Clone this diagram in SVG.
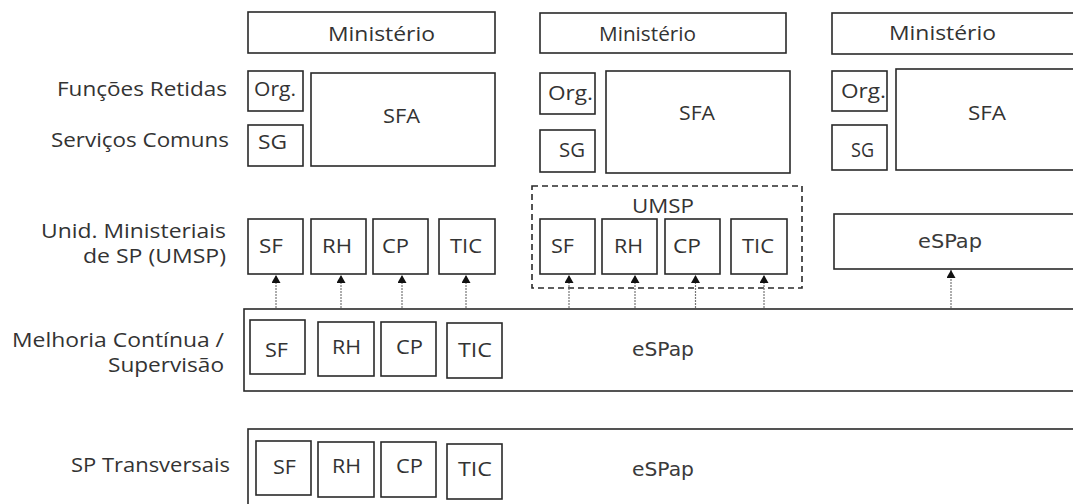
<svg xmlns="http://www.w3.org/2000/svg" width="1073" height="504" viewBox="0 0 1073 504">
<defs>
<style>
.b{fill:#fff;stroke:#2a2a2a;stroke-width:1.6}
.d{fill:none;stroke:#2a2a2a;stroke-width:1.6;stroke-dasharray:6 4}
.t{font-family:"Open Sans","Noto Sans",sans-serif;font-size:20px;fill:#333}
.e{font-family:"DejaVu Sans",Verdana,sans-serif;font-size:19px;fill:#3a3a3a}
.c{stroke:#777;stroke-width:1.2;stroke-dasharray:2 1;fill:none}
</style>
<marker id="ah" markerUnits="userSpaceOnUse" markerWidth="10" markerHeight="10" refX="8" refY="4.5" orient="auto">
<path d="M0,0 L8,4.5 L0,9 z" fill="#111"/>
</marker>
</defs>
<rect width="1073" height="504" fill="#fff"/>

<g id="labels">
<text class="t" x="57" y="96" textLength="170" lengthAdjust="spacingAndGlyphs">Funções Retidas</text>
<text class="t" x="51" y="147" textLength="178" lengthAdjust="spacingAndGlyphs">Serviços Comuns</text>
<text class="t" x="41" y="238" textLength="185" lengthAdjust="spacingAndGlyphs">Unid. Ministeriais</text>
<text class="t" x="83" y="263" textLength="143" lengthAdjust="spacingAndGlyphs">de SP (UMSP)</text>
<text class="t" x="12" y="347" textLength="212" lengthAdjust="spacingAndGlyphs">Melhoria Contínua /</text>
<text class="t" x="108" y="372" textLength="116" lengthAdjust="spacingAndGlyphs">Supervisão</text>
<text class="t" x="71" y="472" textLength="159" lengthAdjust="spacingAndGlyphs">SP Transversais</text>
</g>

<g id="col1">
<g id="min1"><rect class="b" x="248" y="12" width="247" height="41"/><text class="t" x="328" y="41" textLength="107" lengthAdjust="spacingAndGlyphs">Ministério</text></g>
<g id="org1"><rect class="b" x="248" y="71" width="55" height="40"/><text class="t" x="254" y="96" textLength="42" lengthAdjust="spacingAndGlyphs">Org.</text></g>
<g id="sg1"><rect class="b" x="248" y="125" width="55" height="41"/><text class="t" x="258" y="149" textLength="29" lengthAdjust="spacingAndGlyphs">SG</text></g>
<g id="sfa1"><rect class="b" x="311" y="73" width="184" height="93"/><text class="t" x="383" y="123" textLength="37" lengthAdjust="spacingAndGlyphs">SFA</text></g>
</g>

<g id="col2">
<g id="min2"><rect class="b" x="540" y="13" width="246" height="40"/><text class="t" x="599" y="41" textLength="97" lengthAdjust="spacingAndGlyphs">Ministério</text></g>
<g id="org2"><rect class="b" x="540" y="73" width="55" height="41"/><text class="t" x="548" y="100" textLength="45" lengthAdjust="spacingAndGlyphs">Org.</text></g>
<g id="sg2"><rect class="b" x="540" y="130" width="55" height="42"/><text class="t" x="559" y="157" textLength="26" lengthAdjust="spacingAndGlyphs">SG</text></g>
<g id="sfa2"><rect class="b" x="606" y="71" width="184" height="102"/><text class="t" x="679" y="120" textLength="36" lengthAdjust="spacingAndGlyphs">SFA</text></g>
</g>

<g id="col3">
<g id="min3"><rect class="b" x="832" y="13" width="250" height="41"/><text class="t" x="889" y="40" textLength="107" lengthAdjust="spacingAndGlyphs">Ministério</text></g>
<g id="org3"><rect class="b" x="832" y="71" width="55" height="40"/><text class="t" x="841" y="98" textLength="45" lengthAdjust="spacingAndGlyphs">Org.</text></g>
<g id="sg3"><rect class="b" x="832" y="125" width="55" height="45"/><text class="t" x="851" y="157" textLength="23" lengthAdjust="spacingAndGlyphs">SG</text></g>
<g id="sfa3"><rect class="b" x="896" y="69" width="186" height="101"/><text class="t" x="968" y="120" textLength="38" lengthAdjust="spacingAndGlyphs">SFA</text></g>
</g>

<g id="umsp1">
<g id="u1sf"><rect class="b" x="248" y="219" width="55" height="55"/><text class="t" x="259" y="253" textLength="24" lengthAdjust="spacingAndGlyphs">SF</text></g>
<g id="u1rh"><rect class="b" x="311" y="219" width="55" height="55"/><text class="t" x="322" y="253" textLength="30" lengthAdjust="spacingAndGlyphs">RH</text></g>
<g id="u1cp"><rect class="b" x="373" y="219" width="55" height="55"/><text class="t" x="382" y="253" textLength="27" lengthAdjust="spacingAndGlyphs">CP</text></g>
<g id="u1tic"><rect class="b" x="439" y="219" width="56" height="55"/><text class="t" x="450" y="253" textLength="32" lengthAdjust="spacingAndGlyphs">TIC</text></g>
</g>

<g id="umsp2">
<rect class="d" x="532" y="186" width="270" height="102"/>
<text class="t" x="632" y="213" textLength="62" lengthAdjust="spacingAndGlyphs">UMSP</text>
<g id="u2sf"><rect class="b" x="540" y="219" width="55" height="55"/><text class="t" x="551" y="253" textLength="23" lengthAdjust="spacingAndGlyphs">SF</text></g>
<g id="u2rh"><rect class="b" x="602" y="219" width="55" height="55"/><text class="t" x="614" y="253" textLength="29" lengthAdjust="spacingAndGlyphs">RH</text></g>
<g id="u2cp"><rect class="b" x="665" y="219" width="55" height="55"/><text class="t" x="673" y="253" textLength="28" lengthAdjust="spacingAndGlyphs">CP</text></g>
<g id="u2tic"><rect class="b" x="731" y="219" width="56" height="55"/><text class="t" x="742" y="253" textLength="32" lengthAdjust="spacingAndGlyphs">TIC</text></g>
</g>

<g id="espap3"><rect class="b" x="834" y="214" width="248" height="55"/><text class="e" x="918" y="248" textLength="64" lengthAdjust="spacingAndGlyphs">eSPap</text></g>

<g id="melhoria">
<rect class="b" x="244" y="309" width="838" height="82"/>
<text class="e" x="632" y="356" textLength="62" lengthAdjust="spacingAndGlyphs">eSPap</text>
<g id="m_sf"><rect class="b" x="250" y="320" width="55" height="54"/><text class="t" x="265" y="357" textLength="23" lengthAdjust="spacingAndGlyphs">SF</text></g>
<g id="m_rh"><rect class="b" x="318" y="322" width="56" height="54"/><text class="t" x="332" y="354" textLength="29" lengthAdjust="spacingAndGlyphs">RH</text></g>
<g id="m_cp"><rect class="b" x="381" y="322" width="55" height="54"/><text class="t" x="396" y="354" textLength="27" lengthAdjust="spacingAndGlyphs">CP</text></g>
<g id="m_tic"><rect class="b" x="447" y="323" width="55" height="55"/><text class="t" x="458" y="357" textLength="34" lengthAdjust="spacingAndGlyphs">TIC</text></g>
</g>

<g id="transversais">
<rect class="b" x="248" y="429" width="834" height="90"/>
<text class="e" x="632" y="476" textLength="62" lengthAdjust="spacingAndGlyphs">eSPap</text>
<g id="t_sf"><rect class="b" x="256" y="441" width="55" height="54"/><text class="t" x="273" y="474" textLength="23" lengthAdjust="spacingAndGlyphs">SF</text></g>
<g id="t_rh"><rect class="b" x="318" y="442" width="56" height="55"/><text class="t" x="332" y="473" textLength="29" lengthAdjust="spacingAndGlyphs">RH</text></g>
<g id="t_cp"><rect class="b" x="381" y="442" width="55" height="55"/><text class="t" x="396" y="473" textLength="27" lengthAdjust="spacingAndGlyphs">CP</text></g>
<g id="t_tic"><rect class="b" x="447" y="444" width="55" height="55"/><text class="t" x="458" y="476" textLength="34" lengthAdjust="spacingAndGlyphs">TIC</text></g>
</g>

<g id="connectors">
<line class="c" x1="276" y1="308" x2="276" y2="275" marker-end="url(#ah)"/>
<line class="c" x1="341" y1="308" x2="341" y2="275" marker-end="url(#ah)"/>
<line class="c" x1="402" y1="308" x2="402" y2="275" marker-end="url(#ah)"/>
<line class="c" x1="466" y1="308" x2="466" y2="275" marker-end="url(#ah)"/>
<line class="c" x1="569" y1="308" x2="569" y2="275" marker-end="url(#ah)"/>
<line class="c" x1="635" y1="308" x2="635" y2="275" marker-end="url(#ah)"/>
<line class="c" x1="695.5" y1="308" x2="695.5" y2="275" marker-end="url(#ah)"/>
<line class="c" x1="764" y1="308" x2="764" y2="275" marker-end="url(#ah)"/>
<line class="c" x1="951" y1="308" x2="951" y2="270" marker-end="url(#ah)"/>
</g>
</svg>
